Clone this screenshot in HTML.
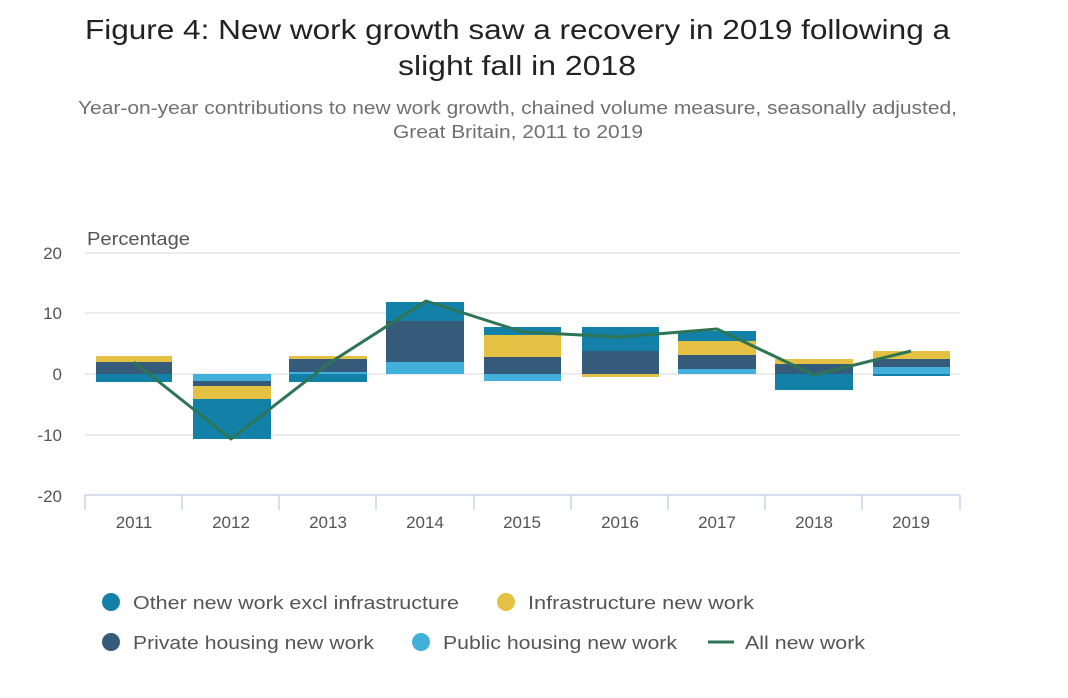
<!DOCTYPE html>
<html><head><meta charset="utf-8"><style>
body{margin:0;background:#fff;width:1068px;height:693px;overflow:hidden;font-family:"Liberation Sans","DejaVu Sans",sans-serif;}
</style></head><body>
<svg width="1068" height="693" xmlns="http://www.w3.org/2000/svg" font-family="Liberation Sans, DejaVu Sans, sans-serif">
<text x="85" y="39" font-size="28" fill="#222" textLength="865" lengthAdjust="spacingAndGlyphs">Figure 4: New work growth saw a recovery in 2019 following a</text>
<text x="398" y="75" font-size="28" fill="#222" textLength="238" lengthAdjust="spacingAndGlyphs">slight fall in 2018</text>
<text x="78" y="114" font-size="18" fill="#707070" textLength="879" lengthAdjust="spacingAndGlyphs">Year-on-year contributions to new work growth, chained volume measure, seasonally adjusted,</text>
<text x="393" y="138" font-size="18" fill="#707070" textLength="250" lengthAdjust="spacingAndGlyphs">Great Britain, 2011 to 2019</text>
<text x="87" y="245" font-size="18" fill="#555" textLength="103" lengthAdjust="spacingAndGlyphs">Percentage</text>
<g stroke="#e6e6e6" stroke-width="1.5">
<line x1="85" x2="960" y1="253" y2="253"/><line x1="85" x2="960" y1="313" y2="313"/><line x1="85" x2="960" y1="374" y2="374"/><line x1="85" x2="960" y1="435" y2="435"/>
</g>
<g font-size="17" fill="#555" text-anchor="end">
<text x="62" y="259">20</text><text x="62" y="319">10</text><text x="62" y="380">0</text><text x="62" y="441">-10</text><text x="62" y="502">-20</text>
</g>
<g>
<rect x="96" y="356" width="76" height="6" fill="#e5c143"/><rect x="96" y="362" width="76" height="12" fill="#365b7a"/><rect x="96" y="374" width="76" height="8" fill="#1380a8"/>
<rect x="193" y="374" width="78" height="7" fill="#42b0da"/><rect x="193" y="381" width="78" height="5" fill="#365b7a"/><rect x="193" y="386" width="78" height="13" fill="#e5c143"/><rect x="193" y="399" width="78" height="40" fill="#1380a8"/>
<rect x="289" y="356" width="78" height="3" fill="#e5c143"/><rect x="289" y="359" width="78" height="13" fill="#365b7a"/><rect x="289" y="372" width="78" height="2" fill="#42b0da"/><rect x="289" y="374" width="78" height="8" fill="#1380a8"/>
<rect x="386" y="302" width="78" height="19" fill="#1380a8"/><rect x="386" y="321" width="78" height="41" fill="#365b7a"/><rect x="386" y="362" width="78" height="12" fill="#42b0da"/>
<rect x="484" y="327" width="77" height="8" fill="#1380a8"/><rect x="484" y="335" width="77" height="22" fill="#e5c143"/><rect x="484" y="357" width="77" height="17" fill="#365b7a"/><rect x="484" y="374" width="77" height="7" fill="#42b0da"/>
<rect x="582" y="327" width="77" height="24" fill="#1380a8"/><rect x="582" y="351" width="77" height="23" fill="#365b7a"/><rect x="582" y="374" width="77" height="3" fill="#e5c143"/>
<rect x="678" y="331" width="78" height="10" fill="#1380a8"/><rect x="678" y="341" width="78" height="14" fill="#e5c143"/><rect x="678" y="355" width="78" height="14" fill="#365b7a"/><rect x="678" y="369" width="78" height="5" fill="#42b0da"/>
<rect x="775" y="359" width="78" height="5" fill="#e5c143"/><rect x="775" y="364" width="78" height="10" fill="#365b7a"/><rect x="775" y="374" width="78" height="16" fill="#1380a8"/>
<rect x="873" y="351" width="77" height="8" fill="#e5c143"/><rect x="873" y="359" width="77" height="8" fill="#365b7a"/><rect x="873" y="367" width="77" height="7" fill="#42b0da"/><rect x="873" y="374" width="77" height="2" fill="#1380a8"/>
</g>
<polyline points="134,362 231,439 328,364 426,301 523,332 620,337 717,329 814,375 911,351" fill="none" stroke="#2e7556" stroke-width="3" stroke-linejoin="round"/>
<g stroke="#c8d3ea" stroke-width="1.5">
<line x1="85" x2="960" y1="495" y2="495"/>
<line x1="85" x2="85" y1="495" y2="510"/><line x1="182" x2="182" y1="495" y2="510"/><line x1="279" x2="279" y1="495" y2="510"/><line x1="376" x2="376" y1="495" y2="510"/><line x1="474" x2="474" y1="495" y2="510"/><line x1="571" x2="571" y1="495" y2="510"/><line x1="668" x2="668" y1="495" y2="510"/><line x1="765" x2="765" y1="495" y2="510"/><line x1="862" x2="862" y1="495" y2="510"/><line x1="960" x2="960" y1="495" y2="510"/>
</g>
<g font-size="17" fill="#555" text-anchor="middle">
<text x="134" y="528">2011</text><text x="231" y="528">2012</text><text x="328" y="528">2013</text><text x="425" y="528">2014</text><text x="522" y="528">2015</text><text x="620" y="528">2016</text><text x="717" y="528">2017</text><text x="814" y="528">2018</text><text x="911" y="528">2019</text>
</g>
<g font-size="18" fill="#555">
<circle cx="111" cy="602" r="9" fill="#1380a8"/><text x="133" y="609" textLength="326" lengthAdjust="spacingAndGlyphs">Other new work excl infrastructure</text>
<circle cx="506" cy="602" r="9" fill="#e5c143"/><text x="528" y="609" textLength="226" lengthAdjust="spacingAndGlyphs">Infrastructure new work</text>
<circle cx="111" cy="642" r="9" fill="#365b7a"/><text x="133" y="649" textLength="241" lengthAdjust="spacingAndGlyphs">Private housing new work</text>
<circle cx="421" cy="642" r="9" fill="#42b0da"/><text x="443" y="649" textLength="234" lengthAdjust="spacingAndGlyphs">Public housing new work</text>
<line x1="708" x2="734" y1="642" y2="642" stroke="#2e7556" stroke-width="3"/><text x="745" y="649" textLength="120" lengthAdjust="spacingAndGlyphs">All new work</text>
</g>
</svg>
</body></html>
